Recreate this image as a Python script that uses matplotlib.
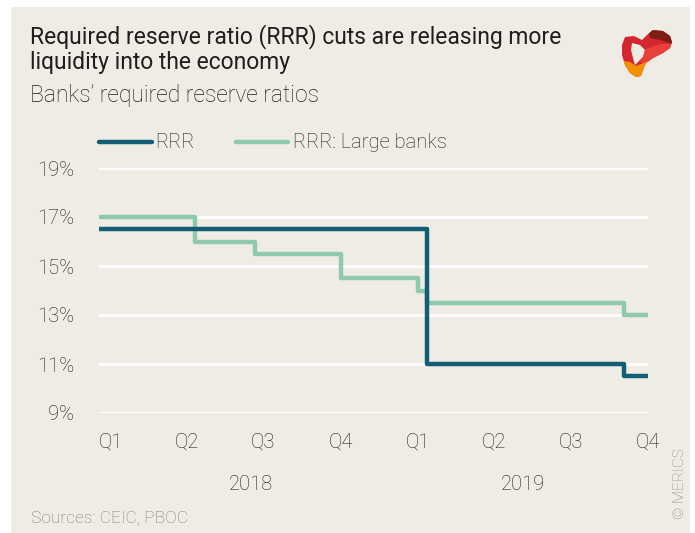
import numpy as np
import pandas as pd
import matplotlib
matplotlib.use("Agg")
import matplotlib.pyplot as plt
from matplotlib.patches import Rectangle, Polygon, PathPatch
from matplotlib.path import Path
from matplotlib.transforms import Affine2D

plt.rcParams['font.family'] = ['Roboto', 'DejaVu Sans']

# step dates and values (value holds from date onwards)
rrr_dates = ['2018-01-01', '2019-01-25', '2019-09-16', '2019-10-15']
rrr_values = [16.5, 11.0, 10.5, 10.5]

large_dates = ['2018-01-01', '2018-04-25', '2018-07-05', '2018-10-15',
               '2019-01-15', '2019-01-25', '2019-09-16', '2019-10-15']
large_values = [17.0, 16.0, 15.5, 14.5, 14.0, 13.5, 13.0, 13.0]

quarter_labels = ['Q1', 'Q2', 'Q3', 'Q4', 'Q1', 'Q2', 'Q3', 'Q4']
quarter_pos = ['2018-01-15', '2018-04-15', '2018-07-15', '2018-10-15',
               '2019-01-15', '2019-04-15', '2019-07-15', '2019-10-15']
years = ['2018', '2019']
year_pos = ['2018-07-01', '2019-05-20']
y_ticks = [9, 11, 13, 15, 17, 19]

bg = '#efebe5'
dark = '#145e75'
green = '#8ecaad'
txt = '#1e1e1e'

rrr_x = pd.to_datetime(rrr_dates)
large_x = pd.to_datetime(large_dates)

fig = plt.figure(figsize=(6.95, 5.33), dpi=100, facecolor='white')
# pixel coordinates (origin top left)
pix = Affine2D().scale(1 / 695, -1 / 533).translate(0, 1) + fig.transFigure

fig.patches.append(Rectangle((11, 7), 679, 530, transform=pix,
                             facecolor=bg, edgecolor='none', zorder=-10))

ax = fig.add_axes([99 / 695, 1 - 413 / 533, 549 / 695, 245 / 533])
ax.set_facecolor('none')
ax.plot(large_x, large_values, drawstyle='steps-post', color=green, lw=3.2,
        solid_capstyle='round', solid_joinstyle='round', zorder=3)
ax.plot(rrr_x, rrr_values, drawstyle='steps-post', color=dark, lw=3.2,
        solid_capstyle='round', solid_joinstyle='round', zorder=4)

ax.set_xlim(pd.Timestamp('2018-01-01'), pd.Timestamp('2019-10-15'))
ax.set_ylim(9, 19)
ax.set_yticks(y_ticks)
ax.set_yticklabels([f'{v}%' for v in y_ticks], fontsize=14.5, color=txt,
                   fontweight='light')
ax.yaxis.grid(True, color='white', lw=2)
ax.set_axisbelow(True)
ax.set_xticks(pd.to_datetime(quarter_pos))
ax.set_xticklabels(quarter_labels, fontsize=14.5, color=txt, fontweight='light')
ax.tick_params(length=0, axis='x', pad=14)
ax.tick_params(length=0, axis='y', pad=18)
for s in ax.spines.values():
    s.set_visible(False)

for yr, pos in zip(years, year_pos):
    ax.annotate(yr, xy=(pd.Timestamp(pos), 0), xycoords=('data', 'axes fraction'),
                xytext=(0, -77), textcoords='offset pixels', ha='center',
                va='baseline', fontsize=14.5, color=txt, fontweight='light')

# legend
fig.add_artist(plt.Line2D([99, 152], [142, 142], transform=pix, color=dark,
                          lw=3.2, solid_capstyle='round'))
fig.text(155 / 695, 1 - 142 / 533, 'RRR', fontsize=14.5, color=txt,
         va='center', fontweight='light')
fig.add_artist(plt.Line2D([236, 288], [142, 142], transform=pix, color=green,
                          lw=3.2, solid_capstyle='round'))
fig.text(293 / 695, 1 - 142 / 533, 'RRR: Large banks', fontsize=14.5, color=txt,
         va='center', fontweight='light')

# titles
fig.text(30 / 695, 1 - 43 / 533, 'Required reserve ratio (RRR) cuts are releasing more',
         fontsize=16.5, color=txt, va='baseline')
fig.text(30 / 695, 1 - 69 / 533, 'liquidity into the economy',
         fontsize=16.5, color=txt, va='baseline')
fig.text(30 / 695, 1 - 102 / 533, 'Banks\u2019 required reserve ratios',
         fontsize=16.5, color=txt, va='baseline', fontweight='light')

fig.text(31 / 695, 1 - 523 / 533, 'Sources: CEIC, PBOC', fontsize=12.5,
         color='#7a7a7a', va='baseline', fontweight='light')
fig.text(680 / 695, 1 - 484 / 533, '\u00a9 MERICS', fontsize=11, color='#8a8a8a',
         rotation=90, ha='center', va='center', fontweight='light')

# logo (ribbon with a hole)
outer = [(625, 37), (634, 36), (642, 40), (648, 34), (653, 30), (663, 31),
         (670, 36), (672, 42), (670, 48), (663, 53), (653, 58), (646, 63),
         (643, 70), (641, 76), (636, 77), (630, 73), (625, 65), (622, 55),
         (622, 45)]
inner = [(632, 43), (640, 45), (645, 50), (643, 57), (638, 62), (635, 65),
         (633, 58), (631, 50)]
verts = outer + [outer[0]] + inner[::-1] + [inner[-1]]
codes = ([Path.MOVETO] + [Path.LINETO] * (len(outer) - 1) + [Path.CLOSEPOLY]
         + [Path.MOVETO] + [Path.LINETO] * (len(inner) - 1) + [Path.CLOSEPOLY])
logo = PathPatch(Path(verts, codes), transform=pix, facecolor='#d4262e',
                 edgecolor='none')
fig.patches.append(logo)
logo_parts = [
    ('#e8403a', [(643, 50), (660, 44), (672, 44), (668, 54), (648, 64), (640, 62)]),
    ('#7e1d12', [(648, 28), (666, 28), (676, 38), (672, 44), (660, 40), (650, 38)]),
    ('#f39200', [(618, 60), (630, 62), (636, 66), (646, 62), (652, 60), (652, 82),
                 (618, 82)]),
]
for col, pts in logo_parts:
    p = Polygon(pts, closed=True, transform=pix, facecolor=col, edgecolor='none')
    fig.patches.append(p)
    p.set_clip_path(logo)

fig.savefig('out.png', dpi=100, facecolor=fig.get_facecolor())
